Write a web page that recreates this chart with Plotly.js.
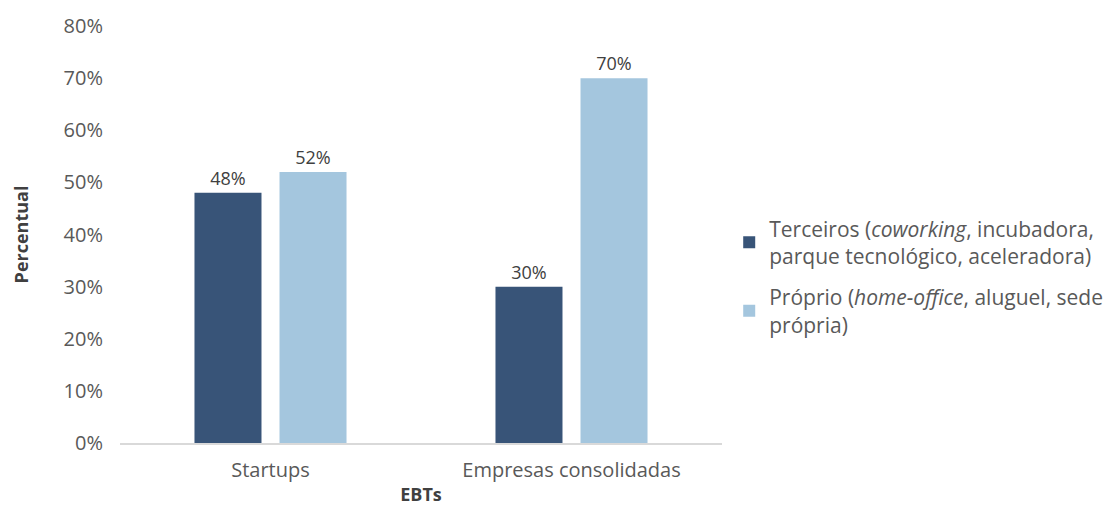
<!DOCTYPE html>
<html>
<head>
<meta charset="utf-8">
<script src="https://cdn.plot.ly/plotly-3.0.1.min.js"></script>
<style>html,body{margin:0;padding:0;background:#fff;}#chart{width:1115px;height:510px;}</style>
</head>
<body>
<div id="chart"></div>
<script>
const categories = ["Startups", "Empresas consolidadas"];
const terceiros = [48, 30];
const proprio = [52, 70];
const seriesNames = [
  "Terceiros (<i>coworking</i>, incubadora,<br>parque tecnológico, aceleradora)",
  "Próprio (<i>home-office</i>, aluguel, sede<br>própria)"
];
const yTickVals = [0, 10, 20, 30, 40, 50, 60, 70, 80];
const yTickText = yTickVals.map(v => v + "%");

const font = "'Open Sans', 'Noto Sans', sans-serif";

const traces = [
  {
    type: "bar", x: categories, y: terceiros, name: seriesNames[0], legendgroup: "a",
    marker: {color: "#385478"},
    text: terceiros.map(v => v + "%"), textposition: "outside",
    textfont: {family: font, size: 18, color: "#404040"},
    cliponaxis: false, hoverinfo: "skip"
  },
  {
    type: "bar", x: categories, y: proprio, name: seriesNames[1], legendgroup: "b",
    marker: {color: "#A4C6DE"},
    text: proprio.map(v => v + "%"), textposition: "outside",
    textfont: {family: font, size: 18, color: "#404040"},
    cliponaxis: false, hoverinfo: "skip"
  }
];

const layout = {
  width: 1115, height: 510,
  margin: {l: 120, r: 393, t: 26, b: 67},
  paper_bgcolor: "#fff", plot_bgcolor: "#fff",
  font: {family: font, size: 20, color: "#595959"},
  barmode: "group", bargap: 0.435, bargroupgap: 0.212,
  showlegend: true,
  legend: {
    xref: "container", yref: "container",
    x: 0.654, xanchor: "left", y: 0.457, yanchor: "middle",
    font: {family: font, size: 21, color: "#595959"},
    traceorder: "grouped", tracegroupgap: 11
  },
  xaxis: {
    showgrid: false, zeroline: false, showline: true,
    linecolor: "#D9D9D9", linewidth: 2,
    ticks: "", ticklabelstandoff: 8,
    tickfont: {family: font, size: 20, color: "#595959"},
    title: {text: "<b>EBTs</b>", font: {family: font, size: 18, color: "#404040"}, standoff: 6}
  },
  yaxis: {
    range: [0, 80], tickvals: yTickVals, ticktext: yTickText,
    showgrid: false, zeroline: false, showline: false, ticks: "",
    ticklabelstandoff: 16,
    tickfont: {family: font, size: 20, color: "#595959"},
    title: {text: "<b>Percentual</b>", font: {family: font, size: 18, color: "#404040"}, standoff: 30}
  }
};

Plotly.newPlot("chart", traces, layout, {displayModeBar: false, staticPlot: true});
</script>
</body>
</html>
